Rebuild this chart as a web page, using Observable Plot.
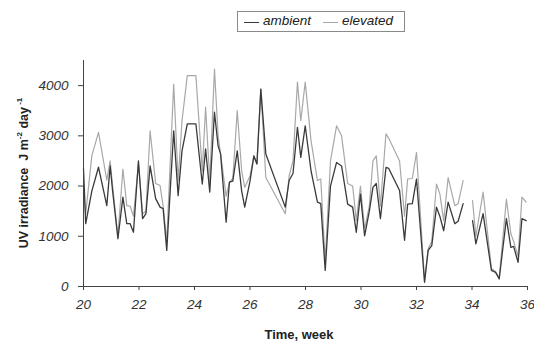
<!DOCTYPE html>
<html>
<head>
<meta charset="utf-8">
<script src="https://cdn.jsdelivr.net/npm/d3@7"></script>
<script src="https://cdn.jsdelivr.net/npm/@observablehq/plot@0.6"></script>
<style>
  html, body { margin: 0; padding: 0; background: #fff; }
  #wrap { position: relative; width: 534px; height: 342px; font-family: "Liberation Sans", Arial, sans-serif; }
  #legend { position: absolute; left: 237px; top: 11px; width: 166px; height: 19px; border: 1px solid #8a8a8a; font-style: italic; font-size: 13.5px; color: #222; }
  #legend span { position: absolute; top: 1px; white-space: nowrap; }
  #legend i.sw { position: absolute; top: 10px; height: 0; border-top: 1.5px solid; width: 15px; }
  #ylab { position: absolute; left: 23px; top: 173px; transform: translate(-50%, -50%) rotate(-90deg); white-space: nowrap; font-weight: bold; font-size: 12.5px; color: #222; }
  #ylab sup { font-size: 8px; vertical-align: 6px; }
  #xlab { position: absolute; left: 299px; top: 334px; transform: translate(-50%, -50%); white-space: nowrap; font-weight: bold; font-size: 13px; color: #222; }
</style>
</head>
<body>
<div id="wrap">
  <div id="chart"></div>
  <div id="legend">
    <i class="sw" style="left:6px;border-color:#3a3a3a"></i><span style="left:25px">ambient</span>
    <i class="sw" style="left:85px;border-color:#a8a8a8"></i><span style="left:104px">elevated</span>
  </div>
  <div id="ylab">UV irradiance&nbsp; J m<sup>-2</sup> day<sup> -1</sup></div>
  <div id="xlab">Time, week</div>
</div>
<script>
const weeks = [20.00, 20.08, 20.30, 20.54, 20.84, 20.96, 21.05, 21.24, 21.42, 21.56, 21.68, 21.80, 21.98, 22.13, 22.25, 22.40, 22.60, 22.76, 22.87, 23.00,
  23.25, 23.41, 23.55, 23.74, 24.05, 24.28, 24.40, 24.55, 24.72, 24.85, 24.94, 25.14, 25.26, 25.38, 25.54, 25.70, 25.81, 26.00, 26.14, 26.25,
  26.39, 26.57, 27.27, 27.41, 27.55, 27.71, 27.83, 27.99, 28.20, 28.43, 28.55, 28.71, 28.90, 29.12, 29.30, 29.52, 29.70, 29.83, 29.98, 30.13,
  30.30, 30.43, 30.55, 30.70, 30.90, 31.00, 31.39, 31.57, 31.68, 31.85, 32.00, 32.29, 32.42, 32.55, 32.72, 32.84, 32.98, 33.14, 33.38, 33.50,
  33.68, 33.85, 34.02, 34.14, 34.40, 34.70, 34.85, 34.98, 35.24, 35.40, 35.50, 35.66, 35.80, 35.95];
const ambient = [2350, 1250, 1900, 2375, 1610, 2400, 1900, 950, 1780, 1250, 1250, 1080, 2500, 1350, 1450, 2400, 1750, 1580, 1550, 720,
  3100, 1810, 2700, 3240, 3240, 2040, 2740, 1880, 3470, 2800, 2640, 1280, 2080, 2100, 2700, 1900, 1580, 2100, 2600, 2440,
  3930, 2640, 1580, 2110, 2250, 3170, 2570, 3200, 2300, 1680, 1650, 320, 2000, 2470, 2400, 1640, 1580, 1080, 1840, 1010,
  1500, 1975, 2050, 1350, 2370, 2350, 1910, 920, 1640, 1650, 2140, 85, 720, 815, 1580, 1400, 1110, 1680, 1250, 1300,
  1650, null, 1310, 850, 1450, 320, 280, 150, 1350, 780, 800, 480, 1350, 1310];
const elevated = [1900, 1450, 2600, 3070, 2120, 2500, 2000, 1000, 2340, 1610, 1600, 1400, 2450, 1450, 1500, 3100, 2050, 2010, 1600, 900,
  4030, 2110, 3300, 4200, 4200, 2300, 3570, 2100, 4330, 3000, 2640, 1800, 2080, 2150, 3500, 2300, 1975, 2200, 2600, 2440,
  3930, 2170, 1450, 2200, 2500, 4070, 3300, 4070, 2900, 2110, 2140, 500, 2500, 3200, 3000, 2050, 2000, 1310, 2000, 1150,
  1600, 2500, 2600, 1600, 3040, 2950, 2500, 1400, 2140, 2150, 2670, 120, 750, 900, 2040, 1850, 1310, 2170, 1610, 1650,
  2110, null, 1710, 1000, 1880, 360, 300, 170, 1740, 1050, 900, 600, 1780, 1680];
const xTicks = [20, 22, 24, 26, 28, 30, 32, 34, 36];
const yTicks = [0, 1000, 2000, 3000, 4000];

const rows = weeks.map((w, i) => ({week: w, ambient: ambient[i], elevated: elevated[i]}));

const chart = Plot.plot({
  width: 534,
  height: 342,
  marginLeft: 83,
  marginRight: 7,
  marginTop: 60,
  marginBottom: 56,
  style: {fontFamily: "'Liberation Sans', Arial, sans-serif", background: "#fff"},
  x: {domain: [20, 36]},
  y: {domain: [0, 4500]},
  marks: [
    Plot.line(rows, {x: "week", y: "elevated", stroke: "#a8a8a8", strokeWidth: 1.2}),
    Plot.line(rows, {x: "week", y: "ambient", stroke: "#3a3a3a", strokeWidth: 1.3}),
    Plot.ruleX([20], {y1: 0, y2: 4500, stroke: "#444"}),
    Plot.ruleY([0], {stroke: "#444"}),
    Plot.axisX({ticks: xTicks, tickFormat: d => String(d), tickSize: 4, tickPadding: 9, fontSize: 13.5, fontStyle: "italic", label: null, stroke: "#444", fill: "#333"}),
    Plot.axisY({ticks: yTicks, tickFormat: d => String(d), tickSize: 5, tickPadding: 10, fontSize: 13.5, fontStyle: "italic", label: null, stroke: "#444", fill: "#333"})
  ]
});
document.getElementById("chart").appendChild(chart);
</script>
</body>
</html>
